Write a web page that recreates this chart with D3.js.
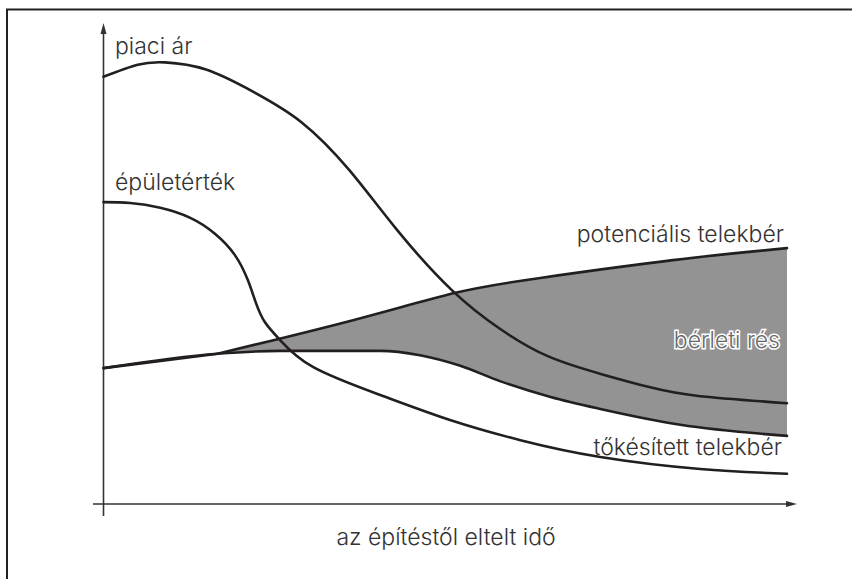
<!DOCTYPE html>
<html>
<head>
<meta charset="utf-8">
<script src="https://cdn.jsdelivr.net/npm/d3@7"></script>
<style>
  body { margin: 0; background: #fff; }
  text { font-family: Inter, "Noto Sans", sans-serif; font-weight: 300; fill: #333; }
</style>
</head>
<body>
<script>
// time since construction (0..10) vs value (0..10)
var piaciAr = [[0, 8.9], [0.5, 9.15], [0.9, 9.2], [1.5, 9.05], [2.2, 8.58], [2.9, 7.95],
    [3.6, 6.95], [4.3, 5.7], [5.1, 4.45], [5.8, 3.65], [6.5, 3.08], [7.3, 2.7],
    [8.0, 2.43], [8.7, 2.25], [10, 2.1]];
var epuletertek = [[0, 6.29], [0.39, 6.27], [0.83, 6.17], [1.27, 5.96], [1.63, 5.63],
    [1.92, 5.19], [2.11, 4.67], [2.23, 4.19], [2.36, 3.79], [2.58, 3.42], [3.07, 2.85],
    [4.05, 2.27], [5.07, 1.75], [6.1, 1.33], [7.27, 0.98], [8.73, 0.73], [10, 0.63]];
var potencialis = [[0, 2.83], [1.67, 3.13], [3.65, 3.83], [5.15, 4.4], [6.39, 4.71],
    [8.33, 5.08], [10, 5.33]];
var tokesitett = [[0, 2.83], [1.67, 3.13], [2.59, 3.19], [4.05, 3.19], [4.63, 3.1],
    [5.22, 2.88], [5.8, 2.56], [6.54, 2.23], [7.27, 1.98], [8.44, 1.65], [10, 1.42]];
var gapStart = 1.67;

const w = 852;
const h = 579;

const xScale = d3.scaleLinear().domain([0, 10]).range([103.5, 787]);
const yScale = d3.scaleLinear().domain([0, 10]).range([504, 24]);

const svg = d3.select("body")
    .append("svg")
    .attr("width", w)
    .attr("height", h);

// frame (only left and top edges fall inside the picture)
svg.append("rect")
    .attr("x", 7)
    .attr("y", 9.5)
    .attr("width", 900)
    .attr("height", 700)
    .attr("fill", "none")
    .attr("stroke", "#222")
    .attr("stroke-width", 2);

const smooth = d3.curveNatural;
const potAfter = potencialis.filter((d) => d[0] >= gapStart);
const potBefore = potencialis.filter((d) => d[0] <= gapStart);

// clip: everything above the capitalised ground rent curve
svg.append("defs")
    .append("clipPath")
    .attr("id", "aboveCap")
    .append("path")
    .attr("d", d3.area()
        .x((d) => xScale(d[0]))
        .y0(0)
        .y1((d) => yScale(d[1]))
        .curve(d3.curveMonotoneX)(tokesitett));

// rent gap fill: below potential curve, clipped above capitalised curve
svg.append("path")
    .attr("d", d3.area()
        .x((d) => xScale(d[0]))
        .y0(yScale(0))
        .y1((d) => yScale(d[1]))
        .curve(smooth)(potAfter))
    .attr("clip-path", "url(#aboveCap)")
    .attr("fill", "#939393");

// axes
svg.append("line")
    .attr("x1", xScale(0)).attr("y1", 516)
    .attr("x2", xScale(0)).attr("y2", 32)
    .attr("stroke", "#333").attr("stroke-width", 1.6);
svg.append("path")
    .attr("d", "M" + xScale(0) + ",23 l-3,11 l6,0 z")
    .attr("fill", "#333");

svg.append("line")
    .attr("x1", 93).attr("y1", yScale(0))
    .attr("x2", 788).attr("y2", yScale(0))
    .attr("stroke", "#333").attr("stroke-width", 1.6);
svg.append("path")
    .attr("d", "M797," + yScale(0) + " l-11,-3 l0,6 z")
    .attr("fill", "#333");

// curves
const line = d3.line()
    .x((d) => xScale(d[0]))
    .y((d) => yScale(d[1]))
    .curve(smooth);
const lineMono = d3.line()
    .x((d) => xScale(d[0]))
    .y((d) => yScale(d[1]))
    .curve(d3.curveMonotoneX);
const straight = d3.line()
    .x((d) => xScale(d[0]))
    .y((d) => yScale(d[1]));

[line(piaciAr), line(epuletertek), straight(potBefore), line(potAfter), lineMono(tokesitett)]
    .forEach((p) => {
        svg.append("path")
            .attr("d", p)
            .attr("fill", "none")
            .attr("stroke", "#231f20")
            .attr("stroke-width", 2.6)
            .attr("stroke-linejoin", "round")
            .attr("stroke-linecap", "round");
    });

// labels
const fs = 23;
svg.append("text").attr("x", 115).attr("y", 54).style("font-size", fs + "px").text("piaci ár");
svg.append("text").attr("x", 115).attr("y", 190).style("font-size", fs + "px").text("épületérték");
svg.append("text").attr("x", 784).attr("y", 242).attr("text-anchor", "end")
    .style("font-size", fs + "px").text("potenciális telekbér");
svg.append("text").attr("x", 782).attr("y", 455).attr("text-anchor", "end")
    .style("font-size", fs + "px").text("tőkésített telekbér");
svg.append("text").attr("x", 780).attr("y", 348).attr("text-anchor", "end")
    .style("font-size", fs + "px")
    .style("fill", "#6a6a6a")
    .style("stroke", "#fff")
    .style("stroke-width", 3)
    .style("paint-order", "stroke")
    .text("bérleti rés");
svg.append("text").attr("x", 446).attr("y", 545).attr("text-anchor", "middle")
    .style("font-size", fs + "px").text("az építéstől eltelt idő");
</script>
</body>
</html>
